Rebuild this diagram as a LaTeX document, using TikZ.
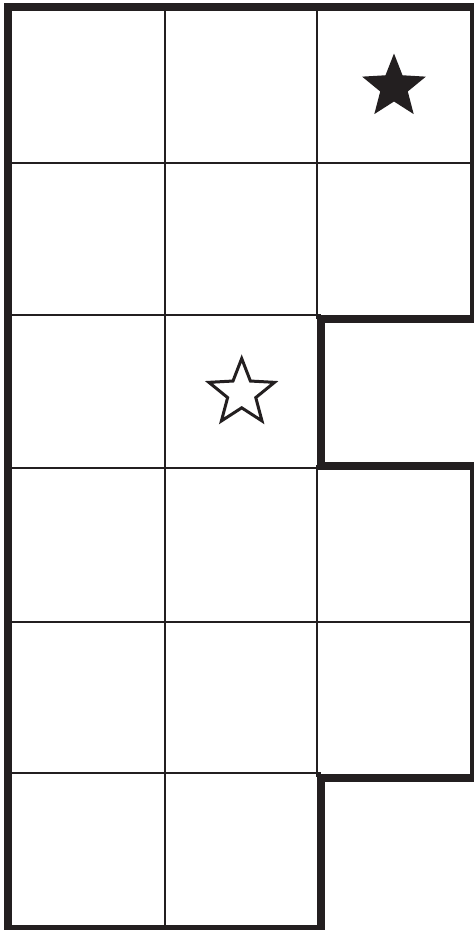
\documentclass[tikz,border=0pt]{standalone}
\usetikzlibrary{calc}
\definecolor{ink}{HTML}{231F20}
\tikzset{
  thin grid/.style={draw=ink, line width=1.5pt},
  thick outline/.style={draw=ink, line width=8pt, line join=miter},
  starpath/.style={draw=ink, line width=3pt, line join=miter, fill=white},
  starfill/.style={fill=ink, draw=none}
}
\begin{document}
\begin{tikzpicture}[x=1pt,y=-1pt]
\useasboundingbox (0,0) rectangle (474,930);
\fill[white] (0,0) rectangle (474,930);
% thin grid lines
\draw[thin grid] (165,7) -- (165,930);
\draw[thin grid] (317,7) -- (317,319);
\draw[thin grid] (317,465) -- (317,777);
\draw[thin grid] (8,163) -- (474,163);
\draw[thin grid] (8,315) -- (321,315);
\draw[thin grid] (8,468) -- (474,468);
\draw[thin grid] (8,622) -- (474,622);
\draw[thin grid] (8,773) -- (321,773);
\draw[thin grid] (8,926) -- (321,926);
% thick outline
\draw[thick outline] (8,7) -- (473.5,7) -- (473.5,319) -- (321,319) -- (321,465.5)
  -- (473.5,465.5) -- (473.5,777.5) -- (321,777.5) -- (321,931) -- (8,931) -- cycle;
% filled star
\coordinate (s1) at (394,87);
\fill[starfill] ($(s1)+(90:-33.5)$) \foreach \k in {1,...,9}{
  -- ($(s1)+({-90+36*\k}:{ifthenelse(mod(\k,2)==0,33.5,14.5)})$)} -- cycle;
% outline star
\coordinate (s2) at (241.7,393);
\draw[starpath] ($(s2)+(90:-34.5)$) \foreach \k in {1,...,9}{
  -- ($(s2)+({-90+36*\k}:{ifthenelse(mod(\k,2)==0,34.5,14.8)})$)} -- cycle;
\end{tikzpicture}
\end{document}
